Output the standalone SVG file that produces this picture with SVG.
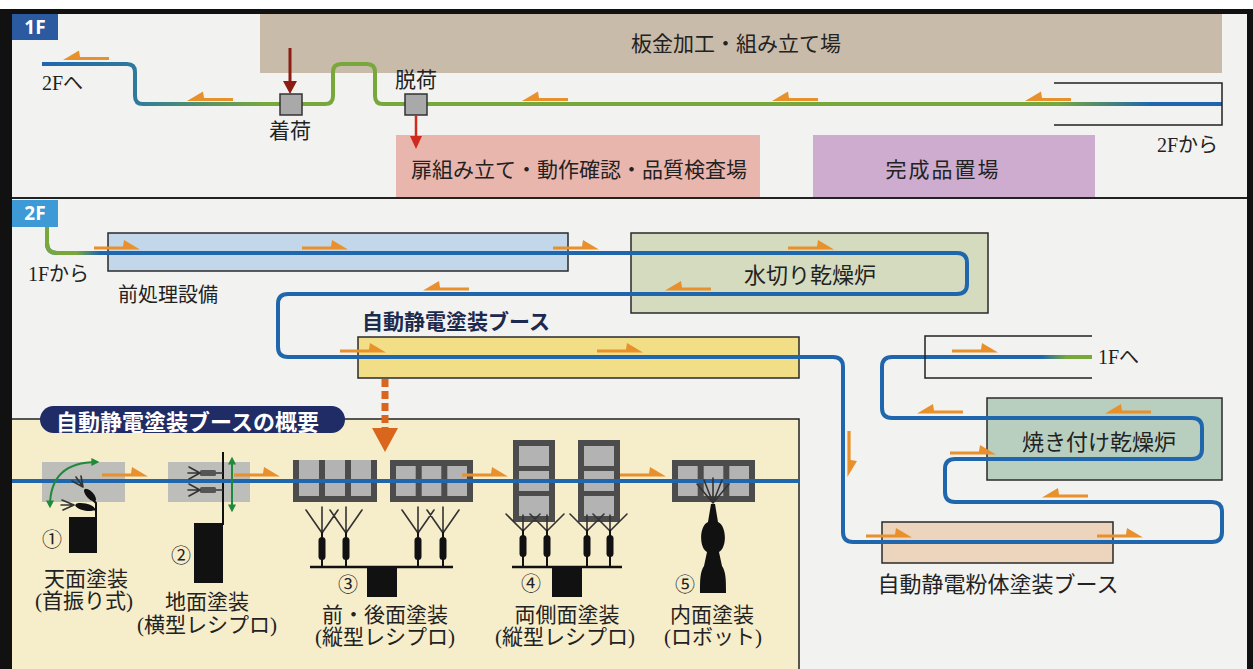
<svg xmlns="http://www.w3.org/2000/svg" width="1253" height="669" viewBox="0 0 1253 669">
  <defs>
    <style>
      .jp{font-family:'Liberation Serif','Noto Sans CJK JP',serif;fill:#222;dominant-baseline:central}
      .mid{text-anchor:middle}
      .zone{stroke:#2a2a2a;stroke-width:1.5}
      .conv{fill:none;stroke:#1f66ad;stroke-width:4;stroke-linecap:butt;stroke-linejoin:round}
      .thin{fill:none;stroke:#222;stroke-width:1.5}
      .fan{fill:none;stroke:#333;stroke-width:1.6;stroke-linecap:round}
      .frame{fill:#4c4c4c}
      .panel{fill:#b3b3b3}
      .gun{fill:#111}
      .green{fill:none;stroke:#1f8a3c;stroke-width:2}
    </style>
    <polygon id="ar" points="0,-1.6 29,-1.6 30,-8 46,1.6 0,1.6" fill="#e8902c"/>
    <marker id="gh" viewBox="0 0 10 10" refX="7" refY="5" markerWidth="4" markerHeight="4" orient="auto-start-reverse">
      <path d="M0,0 L10,5 L0,10 Z" fill="#1f8a3c"/>
    </marker>
    <linearGradient id="g1f" gradientUnits="userSpaceOnUse" x1="42" y1="0" x2="1222" y2="0">
      <stop offset="0" stop-color="#1f66ad"/>
      <stop offset="0.08" stop-color="#2f7a9c"/>
      <stop offset="0.19" stop-color="#78a83c"/>
      <stop offset="0.86" stop-color="#78a83c"/>
      <stop offset="0.94" stop-color="#1f66ad"/>
      <stop offset="1" stop-color="#1f66ad"/>
    </linearGradient>
    <linearGradient id="g2in" gradientUnits="userSpaceOnUse" x1="47" y1="0" x2="100" y2="0">
      <stop offset="0" stop-color="#78a83c"/>
      <stop offset="0.55" stop-color="#78a83c"/>
      <stop offset="1" stop-color="#1f66ad"/>
    </linearGradient>
    <linearGradient id="g2out" gradientUnits="userSpaceOnUse" x1="1020" y1="0" x2="1092" y2="0">
      <stop offset="0" stop-color="#1f66ad"/>
      <stop offset="0.3" stop-color="#1f66ad"/>
      <stop offset="0.65" stop-color="#78a83c"/>
      <stop offset="1" stop-color="#78a83c"/>
    </linearGradient>
  </defs>

  <!-- page and frame -->
  <rect width="1253" height="669" fill="#ffffff"/>
  <rect x="0" y="9" width="1253" height="660" fill="#111"/>
  <rect x="12" y="14" width="1235" height="655" fill="#f2f2f0"/>
  <line x1="12" y1="198" x2="1247" y2="198" stroke="#222" stroke-width="2"/>

  <!-- floor tags -->
  <g id="tag-1f">
    <rect x="12" y="14" width="46" height="26" fill="#2c5aa0"/>
    <text x="35" y="27" text-anchor="middle" dominant-baseline="central" font-family="'Open Sans',sans-serif" font-weight="bold" font-size="19" fill="#fff">1F</text>
  </g>
  <g id="tag-2f">
    <rect x="12" y="200" width="46" height="27" fill="#3d9ad6"/>
    <text x="35" y="213" text-anchor="middle" dominant-baseline="central" font-family="'Open Sans',sans-serif" font-weight="bold" font-size="19" fill="#fff">2F</text>
  </g>

  <!-- 1F areas -->
  <g id="sheet-metal">
    <rect x="260" y="14" width="962" height="59" fill="#c8bba9"/>
    <text class="jp mid" x="736" y="44" font-size="21">板金加工・組み立て場</text>
  </g>
  <g id="door-assembly">
    <rect x="396" y="135" width="364" height="62" fill="#e9b6ae"/>
    <text class="jp mid" x="579" y="170" font-size="21">扉組み立て・動作確認・品質検査場</text>
  </g>
  <g id="finished-goods">
    <rect x="813" y="135" width="282" height="62" fill="#cdaccf"/>
    <text class="jp mid" x="943" y="170" font-size="21" letter-spacing="2">完成品置場</text>
  </g>

  <!-- 2F areas -->
  <g id="pretreatment">
    <rect class="zone" x="108" y="233" width="460" height="38" fill="#c3d7ea"/>
    <text class="jp" x="118" y="295" font-size="20">前処理設備</text>
  </g>
  <g id="drain-oven">
    <rect class="zone" x="631" y="233" width="357" height="80" fill="#d4dbbf"/>
    <text class="jp mid" x="810" y="275" font-size="22">水切り乾燥炉</text>
  </g>
  <g id="liquid-booth">
    <rect class="zone" x="358" y="337" width="441" height="41" fill="#f2de87"/>
    <text x="362" y="320" dominant-baseline="central" font-family="'Noto Sans CJK JP',sans-serif" font-weight="bold" font-size="21" fill="#1c2a4e">自動静電塗装ブース</text>
  </g>
  <g id="bake-oven">
    <rect class="zone" x="987" y="398" width="235" height="82" fill="#b8cfc0"/>
    <text class="jp mid" x="1099" y="442" font-size="22">焼き付け乾燥炉</text>
  </g>
  <g id="powder-booth">
    <rect class="zone" x="882" y="522" width="231" height="41" fill="#ecd4bd"/>
    <text class="jp mid" x="998" y="584" font-size="22">自動静電粉体塗装ブース</text>
  </g>

  <!-- booth overview panel -->
  <g id="overview">
    <rect x="12" y="419" width="787" height="250" fill="#f6edca"/>
    <path d="M12,419 H799 V669" class="thin"/>
    <rect x="40" y="406" width="305" height="27" rx="13.5" fill="#1f2c66"/>
    <text x="56" y="420" dominant-baseline="central" font-family="'Noto Sans CJK JP',sans-serif" font-weight="bold" font-size="22" fill="#fff">自動静電塗装ブースの概要</text>
  </g>

  <!-- station frames -->
  <g id="station-1">
    <rect x="42" y="462" width="83" height="40" fill="#bdbdba"/>
    <rect x="69" y="517" width="28" height="36" fill="#111"/>
  </g>
  <g id="station-2">
    <rect x="168" y="462" width="82" height="40" fill="#bdbdba"/>
    <rect x="194" y="523" width="29" height="60" fill="#111"/>
    <line x1="223" y1="452" x2="223" y2="525" stroke="#111" stroke-width="2"/>
  </g>
  <g id="station-3">
    <rect class="frame" x="293" y="460" width="84" height="42"/>
    <rect class="panel" x="299" y="460" width="20" height="36"/>
    <rect class="panel" x="325" y="460" width="20" height="36"/>
    <rect class="panel" x="351" y="460" width="20" height="36"/>
    <rect class="frame" x="390" y="460" width="83" height="42"/>
    <rect class="panel" x="396" y="466" width="19.7" height="30"/>
    <rect class="panel" x="421.7" y="466" width="19.6" height="30"/>
    <rect class="panel" x="447.3" y="466" width="19.7" height="30"/>
  </g>
  <g id="station-4">
    <rect class="frame" x="513" y="440" width="42" height="82"/>
    <rect class="panel" x="519" y="446" width="30" height="20"/>
    <rect class="panel" x="519" y="471" width="30" height="20"/>
    <rect class="panel" x="519" y="496" width="30" height="20"/>
    <rect class="frame" x="578" y="440" width="42" height="82"/>
    <rect class="panel" x="584" y="446" width="30" height="20"/>
    <rect class="panel" x="584" y="471" width="30" height="20"/>
    <rect class="panel" x="584" y="496" width="30" height="20"/>
  </g>
  <g id="station-5">
    <rect class="frame" x="672" y="460" width="83" height="42"/>
    <rect class="panel" x="678" y="466" width="19.7" height="30"/>
    <rect class="panel" x="703.7" y="466" width="19.6" height="30"/>
    <rect class="panel" x="729.3" y="466" width="19.7" height="30"/>
  </g>

  <!-- conveyor lines -->
  <g id="connectors">
    <path d="M42,64 H127 Q135,64 135,72 V96 Q135,104 143,104 H325 Q333,104 333,96 V72 Q333,64 341,64 H367 Q375,64 375,72 V96 Q375,104 383,104 H1222" fill="none" stroke="url(#g1f)" stroke-width="4"/>
    <path class="conv" d="M47,227 V243 Q47,253 57,253 H957 Q967,253 967,263 V284 Q967,294 957,294 H288 Q278,294 278,304 V347 Q278,357 288,357 H833 Q843,357 843,367 V532 Q843,542 853,542 H1212 Q1222,542 1222,532 V512 Q1222,502 1212,502 H955 Q945,502 945,492 V469 Q945,459 955,459 H1192 Q1202,459 1202,449 V428 Q1202,418 1192,418 H892 Q882,418 882,408 V367 Q882,357 892,357 H1092"/>
    <path d="M47,227 V243 Q47,253 57,253 H100" fill="none" stroke="url(#g2in)" stroke-width="4"/>
    <path d="M1020,357 H1092" fill="none" stroke="url(#g2out)" stroke-width="4"/>
    <path class="conv" d="M12,481 H799"/>
    <!-- bracket ends of the lift -->
    <path class="thin" d="M1054,83 H1222 V125 H1054"/>
    <path class="thin" d="M1092,336 H925 V378 H1092"/>
    <!-- transfer to the booth overview -->
    <line x1="385" y1="379" x2="385" y2="428" stroke="#d9661c" stroke-width="7" stroke-dasharray="8,4"/>
    <polygon points="372,428 398,428 385,452" fill="#d9661c"/>
  </g>

  <!-- flow arrows -->
  <g id="flow-arrows">
    <use href="#ar" transform="translate(109,58.5) scale(-1,1)"/>
    <use href="#ar" transform="translate(233,99.5) scale(-1,1)"/>
    <use href="#ar" transform="translate(568,99.5) scale(-1,1)"/>
    <use href="#ar" transform="translate(818,99.5) scale(-1,1)"/>
    <use href="#ar" transform="translate(1071,99.5) scale(-1,1)"/>
    <use href="#ar" transform="translate(94,248)"/>
    <use href="#ar" transform="translate(302,248)"/>
    <use href="#ar" transform="translate(553,248)"/>
    <use href="#ar" transform="translate(788,248)"/>
    <use href="#ar" transform="translate(711,289) scale(-1,1)"/>
    <use href="#ar" transform="translate(469,289) scale(-1,1)"/>
    <use href="#ar" transform="translate(340,351)"/>
    <use href="#ar" transform="translate(597,351)"/>
    <use href="#ar" transform="translate(952,351)"/>
    <use href="#ar" transform="translate(849,431) rotate(90)"/>
    <use href="#ar" transform="translate(963,412) scale(-1,1)"/>
    <use href="#ar" transform="translate(1151,412) scale(-1,1)"/>
    <use href="#ar" transform="translate(950,453)"/>
    <use href="#ar" transform="translate(1088,496) scale(-1,1)"/>
    <use href="#ar" transform="translate(866,536)"/>
    <use href="#ar" transform="translate(1097,536)"/>
    <use href="#ar" transform="translate(102,475)"/>
    <use href="#ar" transform="translate(234,475)"/>
    <use href="#ar" transform="translate(462,475)"/>
    <use href="#ar" transform="translate(620,475)"/>
  </g>

  <!-- receiving / shipping points -->
  <g id="receiving">
    <line x1="290" y1="48" x2="290" y2="82" stroke="#8b1d12" stroke-width="3"/>
    <polygon points="283,81 297,81 290,94" fill="#8b1d12"/>
    <rect x="280" y="94" width="22" height="21" fill="#a9a9a9" stroke="#333" stroke-width="1.5"/>
    <text class="jp mid" x="290" y="131" font-size="21">着荷</text>
  </g>
  <g id="shipping">
    <rect x="405" y="94" width="22" height="21" fill="#a9a9a9" stroke="#333" stroke-width="1.5"/>
    <line x1="416" y1="115" x2="416" y2="137" stroke="#d02a1e" stroke-width="2.5"/>
    <polygon points="410,136 422,136 416,149" fill="#d02a1e"/>
    <text class="jp mid" x="416" y="80" font-size="21">脱荷</text>
  </g>

  <!-- floor transfer labels -->
  <g id="labels">
    <text class="jp" x="42" y="83" font-size="20">2Fへ</text>
    <text class="jp" x="1157" y="145" font-size="20">2Fから</text>
    <text class="jp" x="28" y="274" font-size="20">1Fから</text>
    <text class="jp" x="1098" y="357" font-size="20">1Fへ</text>
  </g>

  <!-- station 1: top coat, swinging head -->
  <g id="robot-1">
    <path d="M96,517 V503 L92,499" fill="none" stroke="#111" stroke-width="2"/>
    <ellipse cx="90" cy="495" rx="8" ry="3.5" transform="rotate(47 90 495)" class="gun"/>
    <ellipse cx="85" cy="507" rx="10" ry="3.5" transform="rotate(12 85 507)" class="gun"/>
    <path d="M96,510 L93,509" stroke="#111" stroke-width="2"/>
    <path class="fan" stroke="#777" d="M83,487 L72,481 M83,487 L76,477 M83,487 L81,476"/>
    <path class="fan" stroke="#777" d="M74,505 L62,500 M74,505 L61,505 M74,505 L63,510"/>
    <path class="green" d="M50,506 Q50,462 97,462" marker-start="url(#gh)" marker-end="url(#gh)"/>
    <text class="jp mid" x="52" y="540" font-size="20">①</text>
    <text class="jp mid" x="86" y="579" font-size="21">天面塗装</text>
    <text class="jp mid" x="84" y="601" font-size="21">(首振り式)</text>
  </g>

  <!-- station 2: underside, horizontal reciprocator -->
  <g id="robot-2">
    <rect x="200" y="470" width="16" height="6" rx="1.5" fill="#555"/>
    <rect x="200" y="487" width="16" height="6" rx="1.5" fill="#555"/>
    <path d="M216,473 H223 M216,490 H223" stroke="#333" stroke-width="1.5"/>
    <path class="fan" stroke="#888" d="M200,473 L189,467 M200,473 L188,473 M200,473 L189,479 M200,490 L189,484 M200,490 L188,490 M200,490 L189,496"/>
    <path class="green" d="M232,459 V510" marker-start="url(#gh)" marker-end="url(#gh)"/>
    <text class="jp mid" x="181" y="556" font-size="20">②</text>
    <text class="jp mid" x="207" y="602" font-size="21">地面塗装</text>
    <text class="jp mid" x="207" y="625" font-size="21">(横型レシプロ)</text>
  </g>

  <!-- station 3: front/back faces, vertical reciprocators -->
  <g id="robot-3">
    <path class="fan" d="M322,533 L306,510 M322,533 V507 M322,533 L338,510 M346,533 L330,510 M346,533 V507 M346,533 L362,510 M418,533 L402,510 M418,533 V507 M418,533 L434,510 M443,533 L427,510 M443,533 V507 M443,533 L459,510"/>
    <rect class="gun" x="318.5" y="537" width="7" height="23" rx="3.5"/>
    <rect class="gun" x="342.5" y="537" width="7" height="23" rx="3.5"/>
    <rect class="gun" x="414.5" y="537" width="7" height="23" rx="3.5"/>
    <rect class="gun" x="439.5" y="537" width="7" height="23" rx="3.5"/>
    <path d="M322,532 V567 M346,532 V567 M418,532 V567 M443,532 V567" stroke="#111" stroke-width="2"/>
    <line x1="310" y1="567" x2="453" y2="567" stroke="#111" stroke-width="2.5"/>
    <rect x="367" y="567" width="30" height="30" fill="#111"/>
    <text class="jp mid" x="348" y="585" font-size="20">③</text>
    <text class="jp mid" x="385" y="615" font-size="21">前・後面塗装</text>
    <text class="jp mid" x="385" y="637" font-size="21">(縦型レシプロ)</text>
  </g>

  <!-- station 4: both sides, vertical reciprocators -->
  <g id="robot-4">
    <path class="fan" d="M523,531 L506,514 M523,531 V515 M523,531 L540,514 M547,531 L530,514 M547,531 V515 M547,531 L564,514 M587,531 L570,514 M587,531 V515 M587,531 L604,514 M610,531 L593,514 M610,531 V515 M610,531 L627,514"/>
    <rect class="gun" x="519.5" y="535" width="7" height="22" rx="3.5"/>
    <rect class="gun" x="543.5" y="535" width="7" height="22" rx="3.5"/>
    <rect class="gun" x="583.5" y="535" width="7" height="22" rx="3.5"/>
    <rect class="gun" x="606.5" y="535" width="7" height="22" rx="3.5"/>
    <path d="M523,530 V567 M547,530 V567 M587,530 V567 M610,530 V567" stroke="#111" stroke-width="2"/>
    <line x1="512" y1="567" x2="622" y2="567" stroke="#111" stroke-width="2.5"/>
    <rect x="552" y="567" width="30" height="30" fill="#111"/>
    <text class="jp mid" x="531" y="584" font-size="20">④</text>
    <text class="jp mid" x="567" y="615" font-size="21">両側面塗装</text>
    <text class="jp mid" x="565" y="637" font-size="21">(縦型レシプロ)</text>
  </g>

  <!-- station 5: inner faces, robot -->
  <g id="robot-5">
    <path class="fan" stroke="#666" d="M713,503 L697,484 M713,503 L704,480 M713,503 V478 M713,503 L722,480 M713,503 L729,484"/>
    <path d="M711,504 H715 L718,522 C727,526 727,548 719,552 L722,566 C726,572 726,580 726,593 H700 C700,580 700,572 704,566 L707,552 C699,548 699,526 708,522 Z" fill="#111"/>
    <text class="jp mid" x="685" y="585" font-size="20">⑤</text>
    <text class="jp mid" x="712" y="615" font-size="21">内面塗装</text>
    <text class="jp mid" x="713" y="637" font-size="21">(ロボット)</text>
  </g>
</svg>
